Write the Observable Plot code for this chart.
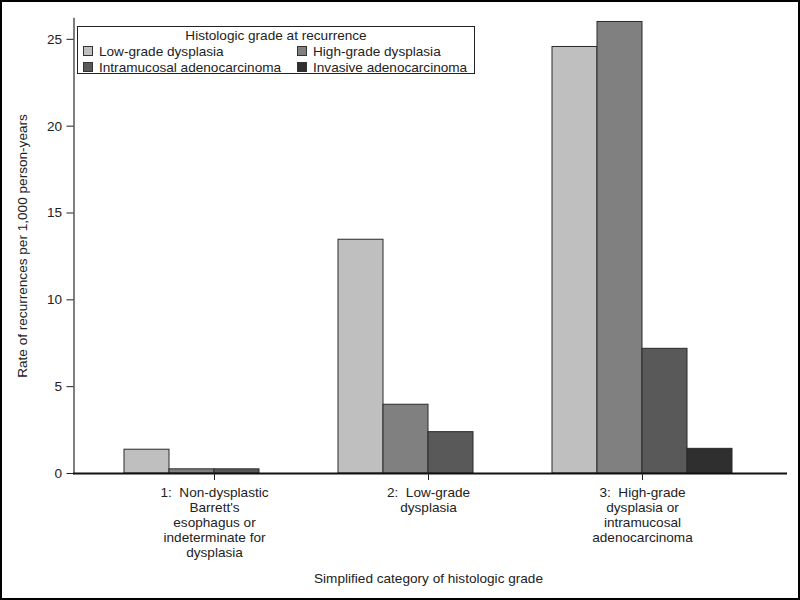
<!DOCTYPE html>
<html><head><meta charset="utf-8">
<script src="https://cdn.jsdelivr.net/npm/d3@7"></script>
<script src="https://cdn.jsdelivr.net/npm/@observablehq/plot@0.6"></script>
<style>
body{margin:0;background:#fff;}
#wrap{position:relative;width:800px;height:600px;overflow:hidden;font-family:"Liberation Sans",Arial,sans-serif;background:#fff;}
#wrap svg{position:absolute;left:0;top:0;}
#border{position:absolute;left:0;top:0;width:800px;height:600px;box-sizing:border-box;border:2px solid #000;pointer-events:none;}
#legend{position:absolute;left:77px;top:26px;width:398px;height:48px;border:1px solid #222;background:#fff;font-size:13.6px;color:#222;box-sizing:border-box;}
#legend .t{position:absolute;left:0;right:0;top:1px;line-height:16px;text-align:center;}
#legend .it{position:absolute;line-height:16px;white-space:nowrap;}
#legend .sw{display:inline-block;width:8px;height:8px;border:1px solid #333;vertical-align:0px;margin-right:6px;}
</style></head>
<body>
<div id="wrap"><div id="border"></div></div>
<script>
const groups = ["g1", "g2", "g3"];
const groupLabels = [
  "1:\u00a0 Non-dysplastic\nBarrett's\nesophagus or\nindeterminate for\ndysplasia",
  "2:\u00a0 Low-grade\ndysplasia",
  "3:\u00a0 High-grade\ndysplasia or\nintramucosal\nadenocarcinoma"
];
const series = ["Low-grade dysplasia", "High-grade dysplasia", "Intramucosal adenocarcinoma", "Invasive adenocarcinoma"];
const colors = ["#bfbfbf", "#808080", "#595959", "#2f2f2f"];
const lowGrade = [1.37, 13.46, 24.56];
const highGrade = [0.24, 3.96, 26.0];
const intramucosal = [0.24, 2.38, 7.18];
const invasive = [0, 0, 1.42];
const yTicks = [0, 5, 10, 15, 20, 25];
const legendTitle = "Histologic grade at recurrence";
const xTitle = "Simplified category of histologic grade";
const yTitle = "Rate of recurrences per 1,000 person-years";

const seriesValues = [lowGrade, highGrade, intramucosal, invasive];
const data = [];
series.forEach((s, si) => groups.forEach((g, gi) => {
  if (seriesValues[si][gi] > 0) data.push({group: g, series: s, value: seriesValues[si][gi]});
}));

const chart = Plot.plot({
  width: 800, height: 600,
  marginTop: 18, marginBottom: 127, marginLeft: 72, marginRight: 16,
  style: {fontFamily: "'Liberation Sans', Arial, sans-serif", fontSize: "13.6px", color: "#222", background: "transparent"},
  fx: {domain: groups, paddingInner: 0, paddingOuter: 0.156},
  x: {domain: series, paddingInner: 0, paddingOuter: 0.363, axis: null},
  y: {domain: [0, 26.2]},
  color: {domain: series, range: colors},
  marks: [
    Plot.barY(data, {fx: "group", x: "series", y: "value", fill: "series", stroke: "#2a2a2a", strokeWidth: 1}),
    Plot.frame({anchor: "left", facet: "super", insetLeft: -33.5, stroke: "#555", strokeWidth: 1.5}),
    Plot.frame({anchor: "bottom", facet: "super", insetLeft: -33.5, insetRight: -36.5, stroke: "#111", strokeWidth: 2}),
    Plot.axisY({ticks: yTicks, tickSize: 7, tickPadding: 5, dx: -33.5, label: yTitle, labelAnchor: "center", labelArrow: "none", labelOffset: 90}),
    Plot.axisFx({anchor: "bottom", tickSize: 7, tickPadding: 6, lineHeight: 1.1, tickFormat: d => groupLabels[groups.indexOf(d)], label: xTitle, labelAnchor: "center", labelOffset: 109})
  ]
});
const wrap = document.getElementById("wrap");
wrap.insertBefore(chart, wrap.firstChild);

const lg = document.createElement("div");
lg.id = "legend";
let html = `<div class="t">${legendTitle}</div>`;
const pos = [[5, 17], [219, 17], [5, 33], [219, 33]];
series.forEach((s, i) => {
  html += `<div class="it" style="left:${pos[i][0]}px;top:${pos[i][1]}px"><span class="sw" style="background:${colors[i]}"></span>${s}</div>`;
});
lg.innerHTML = html;
wrap.appendChild(lg);
</script>
</body></html>
